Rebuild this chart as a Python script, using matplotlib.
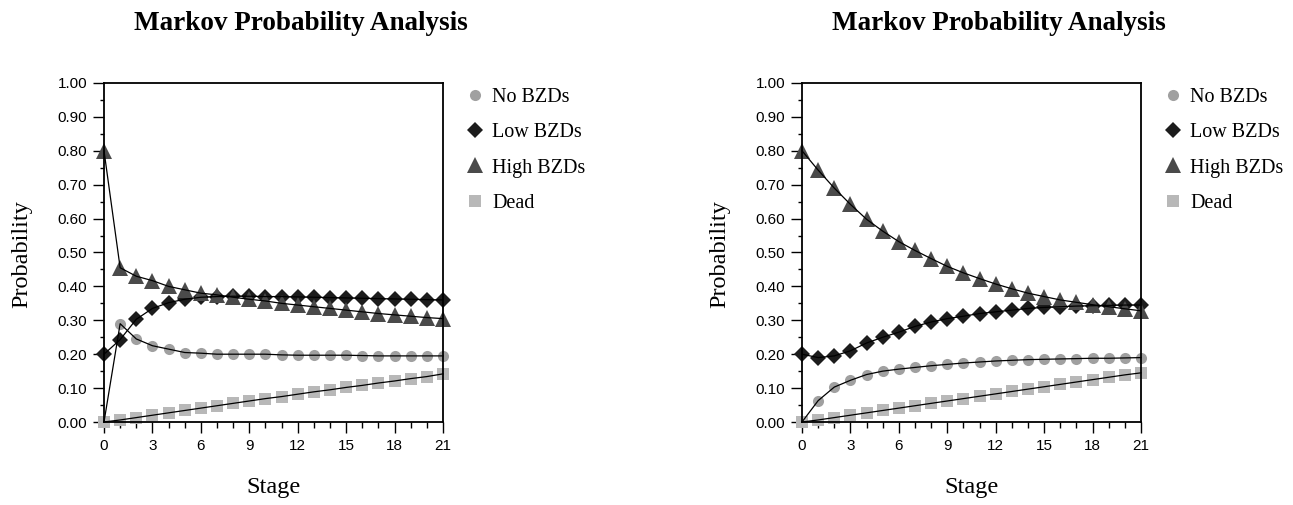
import numpy as np
import matplotlib.pyplot as plt
from matplotlib.ticker import MultipleLocator

plt.rcParams['font.family'] = ['Liberation Serif', 'DejaVu Serif']

# etapas y probabilidades
stages = list(range(22))
series_names = ['No BZDs', 'Low BZDs', 'High BZDs', 'Dead']
y_ticks = [0.0, 0.1, 0.2, 0.3, 0.4, 0.5, 0.6, 0.7, 0.8, 0.9, 1.0]

# panel izquierdo
left_no = [0.00, 0.29, 0.245, 0.225, 0.215, 0.205, 0.203, 0.20, 0.20, 0.20, 0.20,
           0.198, 0.197, 0.197, 0.197, 0.197, 0.196, 0.195, 0.195, 0.195, 0.195, 0.195]
left_low = [0.20, 0.243, 0.303, 0.335, 0.352, 0.362, 0.368, 0.37, 0.371, 0.371, 0.37,
            0.37, 0.369, 0.368, 0.367, 0.366, 0.365, 0.364, 0.363, 0.362, 0.361, 0.36]
left_high = [0.80, 0.455, 0.43, 0.417, 0.40, 0.39, 0.38, 0.375, 0.368, 0.362, 0.357,
             0.35, 0.345, 0.34, 0.335, 0.33, 0.325, 0.32, 0.316, 0.312, 0.308, 0.305]
left_dead = [0.00, 0.006, 0.013, 0.02, 0.027, 0.034, 0.041, 0.048, 0.055, 0.062, 0.069,
             0.075, 0.082, 0.089, 0.095, 0.102, 0.108, 0.115, 0.121, 0.128, 0.134, 0.142]

# panel derecho
right_no = [0.00, 0.063, 0.103, 0.123, 0.14, 0.15, 0.156, 0.161, 0.166, 0.17, 0.174,
            0.177, 0.18, 0.182, 0.184, 0.185, 0.186, 0.187, 0.188, 0.188, 0.189, 0.19]
right_low = [0.20, 0.19, 0.195, 0.21, 0.233, 0.25, 0.265, 0.282, 0.295, 0.305, 0.312,
             0.32, 0.325, 0.33, 0.335, 0.338, 0.34, 0.342, 0.343, 0.344, 0.345, 0.345]
right_high = [0.80, 0.743, 0.69, 0.642, 0.598, 0.563, 0.532, 0.506, 0.482, 0.459, 0.44,
              0.423, 0.407, 0.393, 0.38, 0.37, 0.36, 0.353, 0.346, 0.34, 0.334, 0.328]
right_dead = [0.00, 0.006, 0.013, 0.02, 0.027, 0.034, 0.041, 0.048, 0.055, 0.062, 0.069,
              0.076, 0.083, 0.09, 0.097, 0.104, 0.111, 0.118, 0.125, 0.132, 0.139, 0.145]

styles = [('o', '#a0a0a0'), ('D', '#1c1c1c'), ('^', '#4a4a4a'), ('s', '#b8b8b8')]
msizes = [8, 8.5, 11, 8.5]

W, H = 1293, 505
fig = plt.figure(figsize=(W / 100, H / 100), dpi=100)

panels = [(104, [left_no, left_low, left_high, left_dead]),
          (802, [right_no, right_low, right_high, right_dead])]

for x0, data in panels:
    ax = fig.add_axes([x0 / W, (H - 422) / H, 339 / W, 339 / H])
    for vals, (mk, col), ms, name in zip(data, styles, msizes, series_names):
        ax.plot(stages, vals, linestyle='none', marker=mk, color=col, markersize=ms,
                markeredgewidth=0, clip_on=False, label=name, zorder=2)
        ax.plot(stages, vals, color='black', linewidth=0.9, clip_on=False, zorder=3)
    ax.set_xlim(0, 21)
    ax.set_ylim(0, 1)
    ax.xaxis.set_major_locator(MultipleLocator(3))
    ax.xaxis.set_minor_locator(MultipleLocator(1))
    ax.set_yticks(y_ticks)
    ax.set_yticklabels(['%.2f' % v for v in y_ticks])
    ax.yaxis.set_minor_locator(MultipleLocator(0.05))
    ax.tick_params(which='major', direction='out', length=8, width=1, labelsize=11,
                   top=False, right=False, pad=4)
    ax.tick_params(axis='y', which='minor', direction='out', length=3, width=1, right=False)
    ax.tick_params(axis='x', which='minor', direction='out', length=4.5, width=1, top=False)
    for lab in ax.get_xticklabels() + ax.get_yticklabels():
        lab.set_family(['Liberation Sans', 'DejaVu Sans'])
    for sp in ax.spines.values():
        sp.set_linewidth(1.3)

    fig.text((x0 + 197) / W, 1 - 24 / H, 'Markov Probability Analysis', fontsize=19.5,
             fontweight='bold', ha='center', va='center')
    fig.text((x0 + 170) / W, 1 - 488 / H, 'Stage', fontsize=17.5, ha='center', va='center')
    fig.text((x0 - 82) / W, 1 - 254 / H, 'Probability', fontsize=17.5, rotation=90,
             ha='center', va='center')
    ax.legend(loc='upper left', bbox_to_anchor=((x0 + 363) / W, 1 - 88 / H),
              bbox_transform=fig.transFigure, frameon=False, fontsize=14.5,
              handlelength=0.8, handletextpad=0.45, labelspacing=0.8, borderaxespad=0,
              borderpad=0)

fig.savefig('out.png', dpi=100)
